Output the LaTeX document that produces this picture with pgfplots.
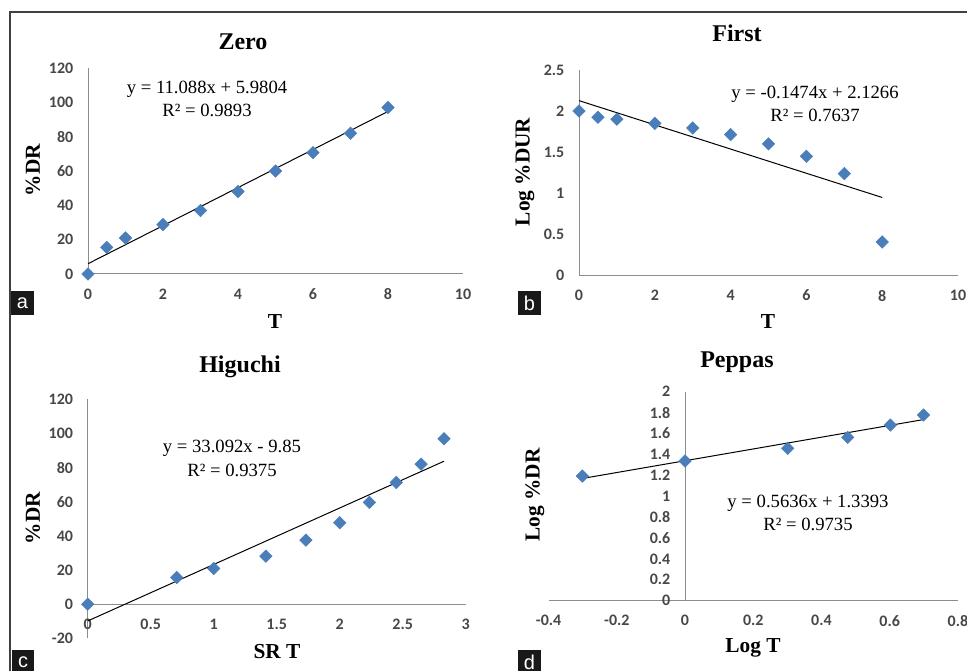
\documentclass[border=0pt]{standalone}
\usepackage{fontspec}
\setmainfont{Liberation Serif}
\newfontfamily\tickfont{Carlito}
\newfontfamily\boxfont{Liberation Sans}
\usepackage{pgfplots}
\pgfplotsset{compat=1.18}

\definecolor{mk}{HTML}{4A7EBB}

\pgfplotsset{
  panel/.style={
    scale only axis,
    anchor=south west,
    axis lines=middle,
    axis line style={-, draw=black!45, line width=0.75pt},
    enlargelimits=false,
    major tick length=0pt,
    hide obscured x ticks=false,
    hide obscured y ticks=false,
    tick label style={font=\tickfont\bfseries\fontsize{12}{13}\selectfont, text=black!72},
    xticklabel style={yshift=-7.5pt},
    yticklabel style={xshift=-7.5pt},
    /pgf/number format/assume math mode=true,
    clip=false,
  },
  dots/.style={only marks, mark=square*, mark size=3.3pt, color=mk,
    mark options={rotate=45, fill=mk, draw=mk}},
  fit/.style={black, line width=0.75pt, no marks},
}

\tikzset{
  ttl/.style={font=\bfseries\fontsize{18}{20}\selectfont},
  lbl/.style={font=\bfseries\fontsize{16}{18}\selectfont},
  eqn/.style={font=\fontsize{14}{16}\selectfont},
  bx/.style={font=\boxfont\fontsize{15}{16}\selectfont, text=white},
}

\begin{document}
\begin{tikzpicture}[x=0.75pt, y=0.75pt]
\useasboundingbox (0,0) rectangle (967,671);
\clip (0,0) rectangle (967,671);

% frame
\draw[black!75, line width=1pt] (10,0) -- (10,659) -- (967,659);

% a: zero order
\begin{axis}[panel, at={(66pt,297.75pt)}, width=281.25pt, height=154.5pt,
  xmin=0, xmax=10, ymin=0, ymax=120,
  xtick={0,2,...,10}, ytick={0,20,...,120}]
\addplot[fit] coordinates {(0,5.9804) (8,94.6844)};
\addplot[dots] coordinates {
  (0,0) (0.5,15.5) (1,21) (2,28.8) (3,37) (4,48) (5,60) (6,70.7) (7,82) (8,97)
};
\end{axis}
\node[ttl] at (243,629) {Zero};
\node[eqn] at (207,582) {y = 11.088x + 5.9804};
\node[eqn] at (207,561) {R² = 0.9893};
\node[lbl, rotate=90] at (33,501) {\%DR};
\node[lbl] at (275,349) {T};

% b: first order
\begin{axis}[panel, at={(434.25pt,296.775pt)}, width=284.25pt, height=154pt,
  xmin=0, xmax=10, ymin=0, ymax=2.5,
  xtick={0,2,...,10}, ytick={0,0.5,1,1.5,2,2.5}]
\addplot[fit] coordinates {(0,2.1266) (8,0.9474)};
\addplot[dots] coordinates {
  (0,2.0) (0.5,1.924) (1,1.90) (2,1.85) (3,1.794) (4,1.713) (5,1.60) (6,1.449) (7,1.238) (8,0.406)
};
\end{axis}
\node[ttl] at (737,638) {First};
\node[eqn] at (815,577) {y = -0.1474x + 2.1266};
\node[eqn] at (815,556) {R² = 0.7637};
\node[lbl, rotate=90] at (525,499) {Log \%DUR};
\node[lbl] at (768,349) {T};

% c: Higuchi
\begin{axis}[panel, at={(65.775pt,24.525pt)}, width=283.5pt, height=179.25pt,
  xmin=0, xmax=3, ymin=-20, ymax=120,
  xtick={0,0.5,...,3}, ytick={-20,0,20,...,120},
  yticklabels={-20,0,20,40,60,80,100,120}]
\addplot[fit] coordinates {(0,-9.85) (2.828,83.73)};
\addplot[dots] coordinates {
  (0,0) (0.707,15.6) (1,20.9) (1.414,28.1) (1.732,37.5) (2,47.7) (2.236,59.6) (2.449,71.3) (2.646,82) (2.828,96.9)
};
\end{axis}
\node[ttl] at (240,304) {Higuchi};
\node[eqn] at (232,223) {y = 33.092x - 9.85};
\node[eqn] at (232,201) {R² = 0.9375};
\node[lbl, rotate=90] at (33,153) {\%DR};
\node[lbl] at (277,19) {SR T};

% d: Peppas
\begin{axis}[panel, at={(411.45pt,52.725pt)}, width=307pt, height=156.75pt,
  xmin=-0.4, xmax=0.8, ymin=0, ymax=2,
  xtick={-0.4,-0.2,0,0.2,0.4,0.6,0.8},
  xticklabels={-0.4,-0.2,0,0.2,0.4,0.6,0.8},
  ytick={0,0.2,...,2}]
\addplot[fit] coordinates {(-0.301,1.1697) (0.699,1.7333)};
\addplot[dots] coordinates {
  (-0.301,1.193) (0,1.337) (0.301,1.458) (0.477,1.563) (0.602,1.681) (0.699,1.777)
};
\end{axis}
\node[ttl] at (737,309) {Peppas};
\node[eqn] at (808,168) {y = 0.5636x + 1.3393};
\node[eqn] at (808,147) {R² = 0.9735};
\node[lbl, rotate=90] at (535,176) {Log \%DR};
\node[lbl] at (753,23) {Log T};

% panel letters
\fill[black!90] (11,356) rectangle (34,380);
\node[bx] at (22.5,368) {a};
\fill[black!90] (518,356) rectangle (541,380);
\node[bx] at (529.5,368) {b};
\fill[black!90] (12,0) rectangle (34,21);
\node[bx] at (23,9) {c};
\fill[black!90] (518,0) rectangle (541,21);
\node[bx] at (529.5,9) {d};
\end{tikzpicture}
\end{document}
